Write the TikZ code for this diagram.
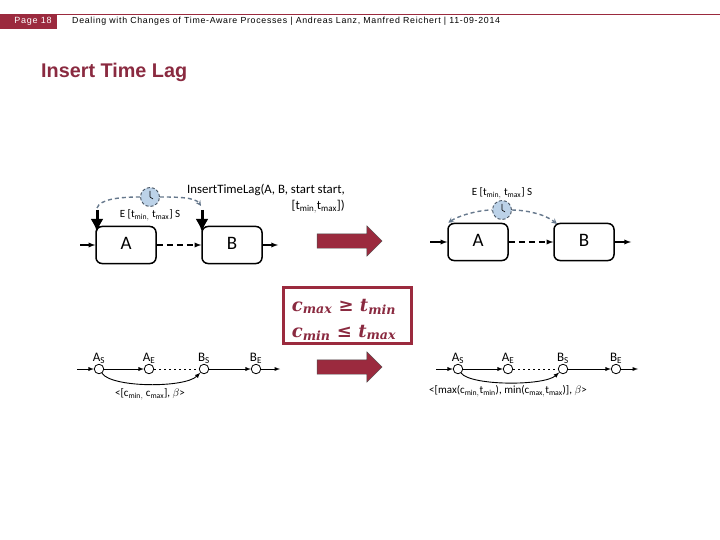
\documentclass[tikz,border=0pt]{standalone}
\usepackage{fontspec}
\usepackage{amsmath}
\setmainfont{Liberation Sans}
\newfontfamily\figfont{Carlito}
\newfontfamily\headfont[LetterSpace=8]{Liberation Sans}
\newfontfamily\condfont{DejaVu Serif}
\usetikzlibrary{shapes.arrows, arrows.meta}
\definecolor{unired}{HTML}{9B2A3E}
\definecolor{titlered}{HTML}{8A2A40}
\definecolor{lagblue}{HTML}{66788C}
\definecolor{clockblue}{HTML}{BCD2E8}
\tikzset{
  activity/.style={draw, line width=1.5pt, rounded corners=6pt, minimum width=60, minimum height=37, inner sep=0pt, font=\figfont\fontsize{19}{19}\selectfont},
  event/.style={draw, circle, line width=0.8pt, minimum size=9.5, inner sep=0pt},
  clockface/.style={draw=lagblue!70!black, line width=0.9pt, densely dashed, fill=clockblue, circle, minimum size=19, inner sep=0pt},
  lagline/.style={lagblue, line width=1.4pt, dash pattern=on 4pt off 3pt, -stealth},
  flow/.style={line width=1.3pt, -latex},
  waitflow/.style={flow, dash pattern=on 6pt off 4pt},
  thinflow/.style={line width=0.9pt, -latex},
  sparse/.style={line width=1pt, dash pattern=on 1.5pt off 3.5pt},
  marker/.style={line width=3pt, -{Latex[length=13pt,width=13pt]}},
  evlabel/.style={font=\figfont\fontsize{11}{11}\selectfont, inner sep=0pt},
  lablabel/.style={font=\figfont\fontsize{11}{11}\selectfont, inner sep=0pt},
  bigarrow/.style={draw=black!70, fill=unired, single arrow, single arrow head extend=8, single arrow tip angle=90, single arrow head indent=0, inner sep=7, minimum height=65, minimum width=30}
}
\begin{document}
\begin{tikzpicture}[x=1pt, y=-1pt]
  \useasboundingbox (0,0) rectangle (720,540);
  % Header
  \node[fill=unired, text=white, minimum width=57, minimum height=15, inner sep=0pt, font=\headfont\fontsize{9}{9}\selectfont] (pagebox) at (28.5,21.5) {\hspace{9pt}Page 18};
  \coordinate (headend) at (720,14.5);
  \draw[unired, line width=1pt] (57,14.5) -- (headend);
  \node[anchor=west, inner sep=0pt, font=\headfont\fontsize{8.8}{9}\selectfont] (headline) at (72,21.5) {Dealing with Changes of Time-Aware Processes | Andreas Lanz, Manfred Reichert | 11-09-2014};
  \node[anchor=west, inner sep=0pt, text=titlered, font=\bfseries\fontsize{19.8}{20}\selectfont] (title) at (41,72) {Insert Time Lag};

  % Top left process
  \node[activity] (a1) at (126,245) {\raisebox{4pt}{A}};
  \node[activity] (b1) at (232,245) {\raisebox{4pt}{B}};
  \coordinate (a1in) at (80,245);
  \coordinate (b1out) at (278,245);
  \draw[flow] (a1in) -- (a1);
  \draw[waitflow] (a1) -- (b1);
  \draw[flow] (b1) -- (b1out);
  \coordinate (a1mark) at (97,210);
  \coordinate (b1mark) at (202,210);
  \draw[marker] (a1mark) -- (97,232);
  \draw[marker] (b1mark) -- (202,232);
  \node[clockface] (clock1) at (150,197) {};
  \draw[lagline, -] (a1mark) ++(0,-2) .. controls (100,199) and (120,197) .. (clock1);
  \draw[lagline] (clock1) .. controls (175,197) and (195,197) .. (201,206);
  \draw[line width=0.6pt] (clock1.center) -- ++(0,-6) (clock1.center) -- ++(3,2);
  \node[evlabel] (lag1) at (150,215) {E [t$_{\text{min},}$ t$_{\text{max}}$] S};
  \node[anchor=north west, inner sep=0pt, align=right, font=\figfont\fontsize{12.8}{16}\selectfont] (call) at (187,184) {InsertTimeLag(A, B, start start,\\{}[t$_{\text{min},}$t$_{\text{max}}$])};

  % Top right process
  \node[activity] (a2) at (478,242) {\raisebox{4pt}{A}};
  \node[activity] (b2) at (584,242) {\raisebox{4pt}{B}};
  \coordinate (a2in) at (430,242);
  \coordinate (b2out) at (631,242);
  \draw[flow] (a2in) -- (a2);
  \draw[waitflow] (a2) -- (b2);
  \draw[flow] (b2) -- (b2out);
  \node[clockface] (clock2) at (502,210) {};
  \draw[lagline, stealth-] (a2.north west) ++(1,0) .. controls (458,216) and (478,210) .. (clock2);
  \draw[lagline] (clock2) .. controls (525,210) and (545,214) .. (557,224);
  \draw[line width=0.6pt] (clock2.center) -- ++(0,-6) (clock2.center) -- ++(3,2);
  \node[evlabel] (lag2) at (502,193) {E [t$_{\text{min},}$ t$_{\text{max}}$] S};

  % Big arrows
  \node[bigarrow] (arrow1) at (346,241) {};
  \node[bigarrow] (arrow2) at (346,367) {};

  % Condition
  \node[draw=unired, line width=2.8pt, minimum width=128, minimum height=56, inner sep=0pt] (cond) at (347.5,315.5) {};
  \node[inner sep=0pt, align=left, text=titlered, font=\condfont\bfseries\itshape\fontsize{18}{26}\selectfont] (condtext) at (344,320) {c$_{\text{max}}$ ≥ t$_{\text{min}}$\\c$_{\text{min}}$ ≤ t$_{\text{max}}$};

  % Bottom left graph
  \foreach \nodename/\xpos/\letter/\sub in {as1/99/A/S, ae1/149/A/E, bs1/204/B/S, be1/256/B/E} {
    \node[event] (\nodename) at (\xpos,369) {};
    \node[evlabel, font=\figfont\fontsize{13}{13}\selectfont] (\nodename l) at (\xpos,358) {\letter$_{\text{\sub}}$};
  }
  \coordinate (as1in) at (77,369);
  \coordinate (be1out) at (280,369);
  \draw[thinflow] (as1in) -- (as1);
  \draw[thinflow] (as1) -- (ae1);
  \draw[sparse] (ae1) -- (bs1);
  \draw[thinflow] (bs1) -- (be1);
  \draw[thinflow] (be1) -- (be1out);
  \draw[thinflow] (as1) .. controls (112,388) and (185,388) .. (bs1);
  \node[lablabel] (lab1) at (150,394) {<[c$_{\text{min},}$ c$_{\text{max}}$], $\beta$>};

  % Bottom right graph
  \foreach \nodename/\xpos/\letter/\sub in {as2/458/A/S, ae2/508/A/E, bs2/563/B/S, be2/616/B/E} {
    \node[event] (\nodename) at (\xpos,369) {};
    \node[evlabel, font=\figfont\fontsize{13}{13}\selectfont] (\nodename l) at (\xpos,358) {\letter$_{\text{\sub}}$};
  }
  \coordinate (as2in) at (436,369);
  \coordinate (be2out) at (638,369);
  \draw[thinflow] (as2in) -- (as2);
  \draw[thinflow] (as2) -- (ae2);
  \draw[sparse] (ae2) -- (bs2);
  \draw[thinflow] (bs2) -- (be2);
  \draw[thinflow] (be2) -- (be2out);
  \draw[thinflow] (as2) .. controls (471,386) and (544,386) .. (bs2);
  \node[lablabel] (lab2) at (508,391) {<[max(c$_{\text{min},}$t$_{\text{min}}$), min(c$_{\text{max},}$t$_{\text{max}}$)], $\beta$>};
\end{tikzpicture}
\end{document}
